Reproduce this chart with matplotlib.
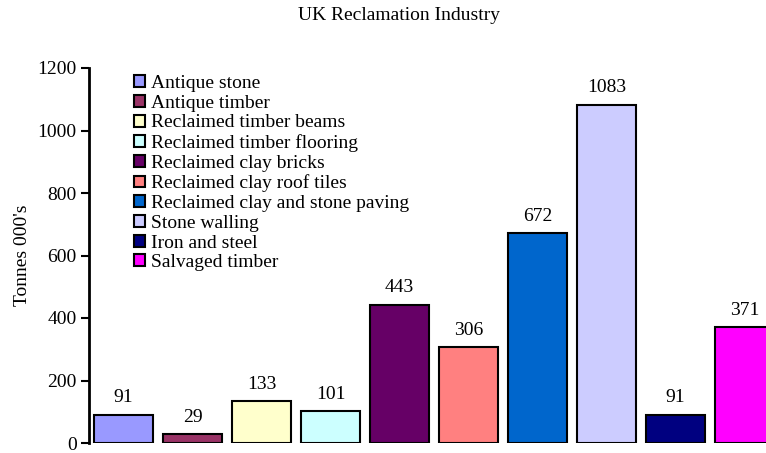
import matplotlib
matplotlib.use("Agg")
import matplotlib.pyplot as plt

# data
categories = ["Antique stone", "Antique timber", "Reclaimed timber beams",
              "Reclaimed timber flooring", "Reclaimed clay bricks",
              "Reclaimed clay roof tiles", "Reclaimed clay and stone paving",
              "Stone walling", "Iron and steel", "Salvaged timber"]
tonnes = [91, 29, 133, 101, 443, 306, 672, 1083, 91, 371]
colors = ["#9999FF", "#993366", "#FFFFCC", "#CCFFFF", "#660066",
          "#FF8080", "#0066CC", "#CCCCFF", "#000080", "#FF00FF"]
yticks = [0, 200, 400, 600, 800, 1000, 1200]

plt.rcParams['font.family'] = ['Liberation Serif', 'DejaVu Serif']

W, H = 766, 453
fig = plt.figure(figsize=(W / 100, H / 100), dpi=100)
# axes runs past the right edge, like the original crop
ax = fig.add_axes([89 / W, 10 / H, 690 / W, 375 / H])

xs = list(range(len(tonnes)))
bars = ax.bar(xs, tonnes, width=0.85, color=colors, edgecolor="black",
              linewidth=1.5)
for b, c in zip(bars, categories):
    b.set_label(c)

for x, v in zip(xs, tonnes):
    ax.annotate(str(v), (x, v), xytext=(0, 6), textcoords="offset points",
                ha="center", va="bottom", fontsize=14)

ax.set_xlim(-0.5, 9.5)
ax.set_ylim(0, 1200)
ax.set_yticks(yticks)
ax.set_xticks([])
ax.tick_params(axis="y", labelsize=14, width=1.5, length=6, direction="out", pad=3)
for s in ["top", "right", "bottom"]:
    ax.spines[s].set_visible(False)
ax.spines["left"].set_linewidth(2)
ax.set_ylabel("Tonnes 000's", fontsize=14)
ax.yaxis.set_label_coords(-(89 - 31) / 690, 0.5)

fig.text(399 / W, 1 - 16 / H, "UK Reclamation Industry", fontsize=14,
         ha="center", va="center")

leg = ax.legend(handles=list(bars), loc="upper left", frameon=False,
                bbox_to_anchor=(134 / W, 1 - 75 / H), bbox_transform=fig.transFigure,
                fontsize=14, handlelength=0.57, handleheight=0.57, handletextpad=0.3,
                labelspacing=0.14, borderpad=0, borderaxespad=0)
for h in leg.legend_handles:
    h.set_linewidth(1.5)

fig.savefig("out.png", dpi=100)
